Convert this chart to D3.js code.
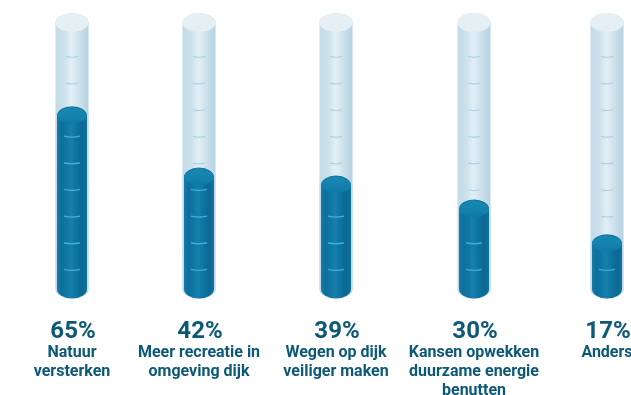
<!DOCTYPE html>
<html><head><meta charset="utf-8">
<script src="https://cdn.jsdelivr.net/npm/d3@7"></script>
<style>html,body{margin:0;padding:0;background:#fff}svg{display:block}</style>
</head><body><svg id="c" width="631" height="395"></svg>
<script>
const categories=["Natuur versterken","Meer recreatie in omgeving dijk","Wegen op dijk veiliger maken","Kansen opwekken duurzame energie benutten","Anders"];
const values=[65,42,39,30,17];
const labelLines=[["Natuur","versterken"],["Meer recreatie in","omgeving dijk"],["Wegen op dijk","veiliger maken"],["Kansen opwekken","duurzame energie","benutten"],["Anders"]];
const tubeCenters=[72,199,336,474,607];
const tickValues=[7,17,27,37,47,57,67,77,87];

const W=631,H=395,tubeRx=16.5,fillRx=15,ry=9.5;
const svg=d3.select("#c");
const y=d3.scaleLinear().domain([0,100]).range([289,22.6]);
const x=d3.scaleOrdinal().domain(categories).range(tubeCenters);
const defs=svg.append("defs");
function grad(id,stops,o={x1:"0%",x2:"100%",y1:"0%",y2:"0%"}){
  const g=defs.append("linearGradient").attr("id",id).attr("x1",o.x1).attr("x2",o.x2).attr("y1",o.y1).attr("y2",o.y2);
  stops.forEach(s=>g.append("stop").attr("offset",s[0]).attr("stop-color",s[1]));
}
grad("glass",[["0%","#c2dbe8"],["25%","#cbe0ea"],["48%","#e2eff5"],["65%","#d3e5ee"],["100%","#b4d2e1"]]);
grad("liquid",[["0%","#157aa6"],["15%","#0f6f9c"],["48%","#137fab"],["82%","#0c6893"],["100%","#10719c"]]);
grad("liquidTop",[["0%","#1888b5"],["100%","#0f7aa6"]],{x1:"0%",x2:"0%",y1:"0%",y2:"100%"});
defs.append("filter").attr("id","soft").append("feGaussianBlur").attr("stdDeviation",0.7);
defs.append("filter").attr("id","softText").append("feGaussianBlur").attr("stdDeviation",0.4);

const cyl=(cx,rx,top,bot)=>`M${cx-rx},${top}L${cx-rx},${bot}A${rx},${ry} 0 0 0 ${cx+rx},${bot}L${cx+rx},${top}A${rx},${ry} 0 0 0 ${cx-rx},${top}Z`;
const rows=categories.map((c,i)=>({c,v:values[i],lines:labelLines[i]}));
const g=svg.selectAll("g.tube").data(rows).join("g").attr("class","tube").attr("filter","url(#soft)");
g.append("path").attr("d",d=>cyl(x(d.c),tubeRx,y(100),y(0))).attr("fill","url(#glass)");
g.append("ellipse").attr("cx",d=>x(d.c)).attr("cy",y(100)).attr("rx",tubeRx).attr("ry",ry).attr("fill","#e6eff3");
g.selectAll("path.gt").data(()=>tickValues).join("path").attr("class","gt")
 .attr("d",function(t){const d=d3.select(this.parentNode).datum(),c=x(d.c);return `M${c-6},${y(t)-0.7}Q${c},${y(t)+0.7} ${c+6},${y(t)-0.7}`;})
 .attr("fill","none").attr("stroke","#a6cfe2").attr("stroke-width",1.1);
g.append("path").attr("d",d=>cyl(x(d.c),tubeRx,y(d.v),y(0))).attr("fill","#c2dde9");
g.append("path").attr("d",d=>cyl(x(d.c),fillRx,y(d.v),y(0))).attr("fill","url(#liquid)");
g.append("ellipse").attr("cx",d=>x(d.c)).attr("cy",d=>y(d.v)).attr("rx",fillRx).attr("ry",ry-1.5).attr("fill","url(#liquidTop)");
g.selectAll("path.lt").data(d=>tickValues.filter(t=>t<d.v-3).map(t=>({t,c:d.c}))).join("path").attr("class","lt")
 .attr("d",d=>{const c=x(d.c);return `M${c-8},${y(d.t)-1}Q${c},${y(d.t)+1} ${c+8},${y(d.t)-1}`;})
 .attr("fill","none").attr("stroke","#3eb0d8").attr("stroke-width",1.4);

const t=svg.selectAll("g.lab").data(rows).join("g").attr("class","lab")
 .attr("text-anchor","middle").attr("fill","#0a5877").attr("font-family","Roboto, sans-serif").attr("filter","url(#softText)");
t.append("text").attr("x",d=>x(d.c)+1).attr("y",338).attr("font-size",24).attr("font-weight",700).text(d=>d.v+"%");
t.each(function(d){
  d3.select(this).selectAll("text.l").data(d.lines).join("text").attr("class","l")
   .attr("x",x(d.c)).attr("y",(l,i)=>357+i*19).attr("font-size",16).attr("font-weight",700).text(l=>l);
});
</script></body></html>
